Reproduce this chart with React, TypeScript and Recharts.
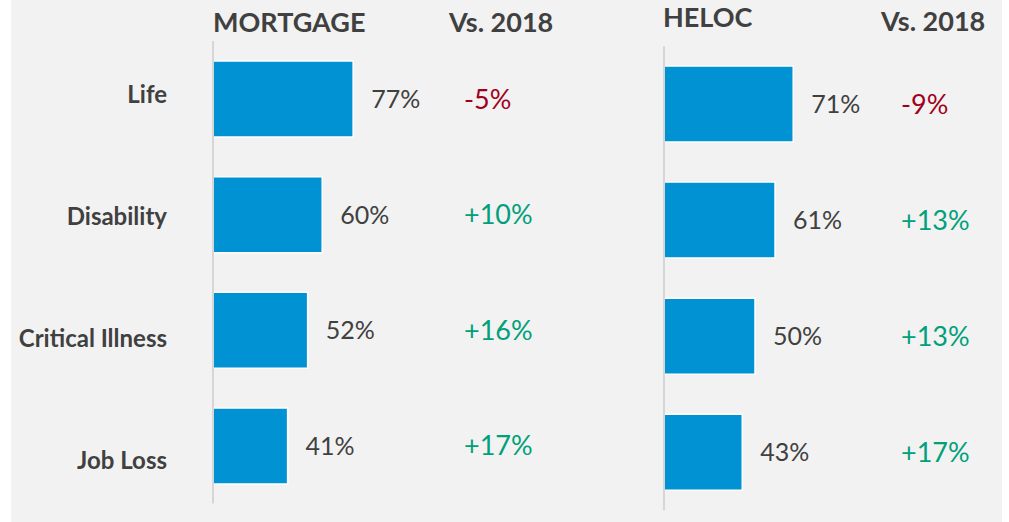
import { BarChart, Bar, XAxis, YAxis, LabelList } from "recharts";

const categories = ["Life", "Disability", "Critical Illness", "Job Loss"];
const mortgageValues = [77, 60, 52, 41];
const mortgageChange = [-5, 10, 16, 17];
const helocValues = [71, 61, 50, 43];
const helocChange = [-9, 13, 13, 17];

const BLUE = "#0092d2";
const TEXT = "#404040";
const RED = "#a0001c";
const GREEN = "#00a07a";
const FONT = "Lato, 'Open Sans', sans-serif";

const fmtChange = (v: number) => (v < 0 ? `${v}%` : `+${v}%`);

const makeRows = (values: number[]) =>
  categories.map((name, i) => ({ name, value: values[i] }));

const CategoryTick = (props: any) => {
  const { x, y, payload, index } = props;
  // labels in the original sit a little lower as you go down
  const nudge = -4 + 6.2 * index;
  return (
    <text x={x} y={y + nudge} dy="0.36em" textAnchor="end" fontSize={24} fontWeight={700} fill={TEXT} fontFamily={FONT}>
      {payload.value}
    </text>
  );
};

const changeTick = (changes: number[]) => (props: any) => {
  const { x, y, payload } = props;
  const v = changes[categories.indexOf(payload.value)];
  return (
    <text x={x} y={y} dy="0.36em" textAnchor="start" fontSize={27} fill={v < 0 ? RED : GREEN} fontFamily={FONT}>
      {fmtChange(v)}
    </text>
  );
};

interface PanelProps {
  values: number[];
  changes: number[];
  width: number;
  labelWidth: number;
  changeWidth: number;
  changeGap: number;
  top: number;
  bottom: number;
  showCategories: boolean;
}

const Panel = ({ values, changes, width, labelWidth, changeWidth, changeGap, top, bottom, showCategories }: PanelProps) => {
  const rows = makeRows(values);
  return (
    <BarChart
      width={width}
      height={522}
      data={rows}
      layout="vertical"
      margin={{ top, right: 0, bottom, left: 0 }}
      barSize={76}
    >
      <XAxis type="number" domain={[0, 100]} hide />
      <YAxis
        type="category"
        dataKey="name"
        width={labelWidth}
        axisLine={{ stroke: "#d6d6d6", strokeWidth: 2 }}
        tickLine={false}
        tickSize={0}
        tickMargin={46}
        tick={showCategories ? CategoryTick : false}
      />
      <YAxis
        yAxisId="chg"
        orientation="right"
        type="category"
        dataKey="name"
        width={changeWidth}
        axisLine={false}
        tickLine={false}
        tickSize={0}
        tickMargin={changeGap}
        tick={changeTick(changes)}
      />
      <Bar dataKey="value" fill={BLUE} stroke="#ffffff" strokeWidth={1.5} isAnimationActive={false}>
        <LabelList
          dataKey="value"
          position="right"
          offset={18}
          fill={TEXT}
          fontSize={25}
          fontFamily={FONT}
          formatter={(v: any) => `${v}%`}
        />
      </Bar>
    </BarChart>
  );
};

const App = () => {
  return (
    <div style={{ position: "absolute", left: 0, top: 0, width: 1009, height: 522, background: "#ffffff", fontFamily: FONT }}>
      <div style={{ position: "absolute", left: 11, top: 0, width: 991, height: 521.7, background: "#f2f2f2" }} />
      <div style={{ position: "absolute", left: 0, top: 0 }}>
        <Panel
          values={mortgageValues}
          changes={mortgageChange}
          width={600}
          labelWidth={213}
          changeWidth={205}
          changeGap={69}
          top={41}
          bottom={18.5}
          showCategories
        />
      </div>
      <div style={{ position: "absolute", left: 640, top: 0 }}>
        <Panel
          values={helocValues}
          changes={helocChange}
          width={369}
          labelWidth={24}
          changeWidth={163}
          changeGap={55}
          top={46}
          bottom={11.7}
          showCategories={false}
        />
      </div>
      <svg width={1009} height={522} style={{ position: "absolute", left: 0, top: 0, pointerEvents: "none" }}>
        <g fontFamily={FONT} fontWeight={700} fontSize={27} fill={TEXT}>
          <text x={213} y={31.7}>MORTGAGE</text>
          <text x={449} y={32}>Vs. 2018</text>
          <text x={663} y={26.8}>HELOC</text>
          <text x={881} y={31.2}>Vs. 2018</text>
        </g>
      </svg>
    </div>
  );
};

export default App;
